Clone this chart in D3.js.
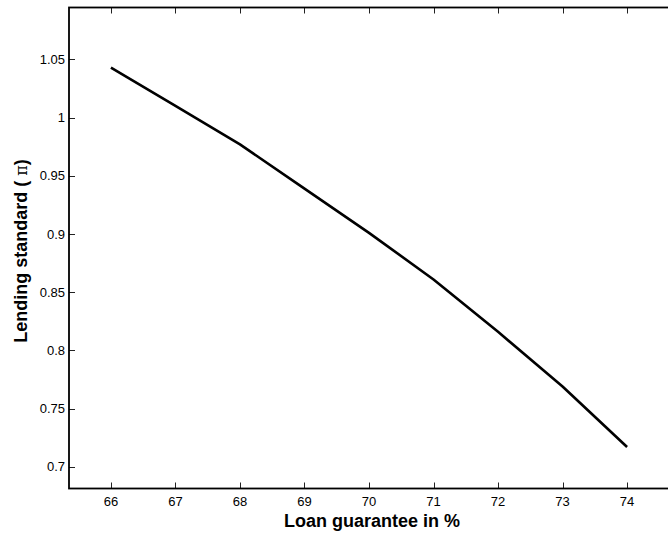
<!DOCTYPE html>
<html lang="en">
<head>
	<meta charset="utf-8">
	<title>Lending standard vs loan guarantee</title>
	<script src="https://d3js.org/d3.v7.min.js"></script>
	<style>
		body { margin: 0; background: #fff; }
		svg { display: block; }
		.tick-label { font-family: "Liberation Sans", Arial, sans-serif; font-size: 13px; fill: #000; }
		.axis-title { font-family: "Liberation Sans", Arial, sans-serif; font-size: 18px; font-weight: bold; fill: #000; }
	</style>
</head>
<body>

<script type="text/javascript">

// loan guarantee in %
var guarantee = [66, 67, 68, 69, 70, 71, 72, 73, 74];
// lending standard (pi)
var lendingStd = [1.043, 1.010, 0.977, 0.939, 0.901, 0.861, 0.816, 0.769, 0.717];

var xTicks = [66, 67, 68, 69, 70, 71, 72, 73, 74];
var yTicks = [0.7, 0.75, 0.8, 0.85, 0.9, 0.95, 1, 1.05];

var W = 668, H = 535;
// plot box edges (don't call these top/left, window.top is read only)
// right edge sits just past the window, like in the original figure
var boxL = 69, boxT = 7.5, boxR = 669, boxB = 488.5;

var svg = d3.select("body").append("svg")
    .attr("width", W)
    .attr("height", H);

var x = d3.scaleLinear().domain([65.35, 74.65]).range([boxL, boxR]);
var y = d3.scaleLinear().domain([0.6814, 1.0946]).range([boxB, boxT]);

// ticks go inward, bottom+top and left
var tickLen = 6;
var g = svg.append("g");

xTicks.forEach(function(t) {
  var px = Math.round(x(t)) + 0.5;
  g.append("line").attr("x1", px).attr("x2", px).attr("y1", boxB).attr("y2", boxB - tickLen);
  g.append("line").attr("x1", px).attr("x2", px).attr("y1", boxT).attr("y2", boxT + tickLen);
  svg.append("text")
    .attr("class", "tick-label")
    .attr("x", x(t))
    .attr("y", 506)
    .attr("text-anchor", "middle")
    .text(t);
});

yTicks.forEach(function(t) {
  var py = Math.round(y(t)) + 0.5;
  g.append("line").attr("x1", boxL).attr("x2", boxL + tickLen).attr("y1", py).attr("y2", py);
  svg.append("text")
    .attr("class", "tick-label")
    .attr("x", boxL - 4)
    .attr("y", y(t))
    .attr("dy", "0.35em")
    .attr("text-anchor", "end")
    .text(d3.format("~g")(t));
});

g.selectAll("line")
  .attr("stroke", "#222")
  .attr("stroke-width", 1);

// the box
svg.append("rect")
  .attr("x", boxL)
  .attr("y", boxT)
  .attr("width", boxR - boxL)
  .attr("height", boxB - boxT)
  .attr("fill", "none")
  .attr("stroke", "#000")
  .attr("stroke-width", 1.8);

// the curve
var line = d3.line()
  .x(function(d, i) { return x(guarantee[i]); })
  .y(function(d) { return y(d); });

svg.append("path")
  .datum(lendingStd)
  .attr("d", line)
  .attr("fill", "none")
  .attr("stroke", "#000")
  .attr("stroke-width", 2.6)
  .attr("stroke-linejoin", "round");

// axis titles
svg.append("text")
  .attr("class", "axis-title")
  .attr("x", (boxL + boxR) / 2 + 3)
  .attr("y", 526.5)
  .attr("text-anchor", "middle")
  .text("Loan guarantee in %");

var yt = svg.append("text")
  .attr("class", "axis-title")
  .attr("transform", "translate(27,251) rotate(-90)")
  .attr("text-anchor", "middle");
yt.append("tspan").text("Lending standard ( ");
yt.append("tspan")
  .style("font-weight", "normal")
  .style("font-family", "'DejaVu Serif', serif")
  .style("font-size", "16px")
  .text("\u03c0");
yt.append("tspan").text(")");

</script>
</body>
</html>
